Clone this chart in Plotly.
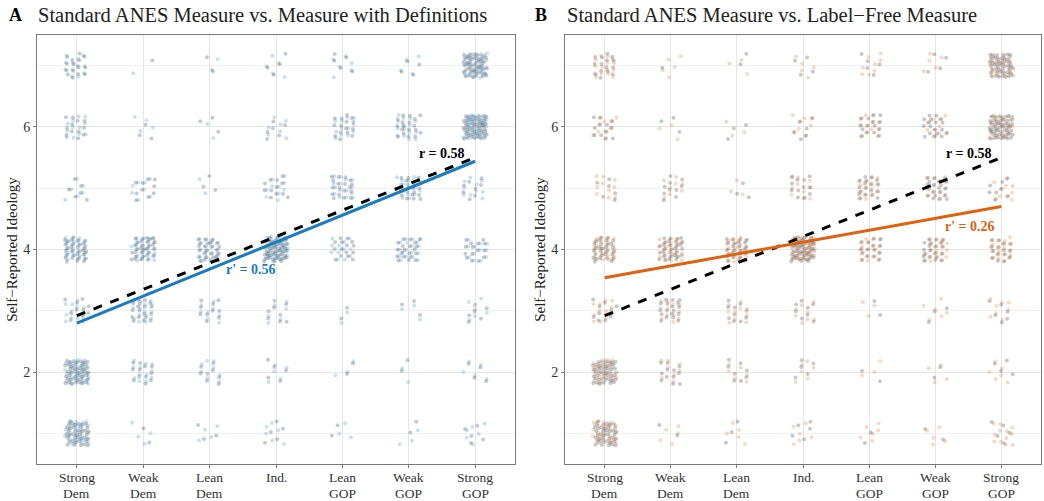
import numpy as np
import plotly.graph_objects as go

# ---------------- data ----------------
party_labels = ["Strong<br>Dem", "Weak<br>Dem", "Lean<br>Dem", "Ind.", "Lean<br>GOP", "Weak<br>GOP", "Strong<br>GOP"]
party_pos = [1, 2, 3, 4, 5, 6, 7]
ideology_levels = [1, 2, 3, 4, 5, 6, 7]
y_ticks = [2, 4, 6]

# counts of respondents per cell, rows = ideology 1..7, cols = party categories
standard_counts = [
    [40, 2, 3, 5, 2, 2, 5],
    [45, 12, 8, 5, 2, 2, 4],
    [10, 18, 10, 8, 2, 3, 6],
    [30, 30, 25, 50, 15, 20, 15],
    [6, 10, 3, 12, 18, 20, 8],
    [12, 3, 3, 6, 15, 18, 50],
    [15, 1, 2, 4, 5, 4, 45],
]
definitions_counts = [
    [30, 4, 4, 6, 3, 3, 6],
    [35, 12, 8, 5, 3, 2, 5],
    [12, 15, 8, 6, 2, 3, 6],
    [25, 25, 20, 40, 12, 18, 12],
    [6, 8, 2, 10, 15, 15, 10],
    [12, 4, 2, 7, 12, 15, 40],
    [12, 1, 2, 5, 6, 4, 35],
]
labelfree_counts = [
    [25, 5, 5, 6, 6, 5, 12],
    [25, 8, 6, 6, 3, 4, 6],
    [12, 12, 10, 8, 3, 6, 8],
    [25, 25, 25, 40, 18, 20, 20],
    [10, 8, 3, 10, 15, 12, 10],
    [10, 3, 3, 8, 12, 10, 25],
    [15, 5, 3, 5, 8, 5, 25],
]

# fitted lines (endpoints at Strong Dem / Strong GOP)
line_x = [1, 7]
standard_fit = [2.92, 5.50]
definitions_fit = [2.80, 5.44]
labelfree_fit = [3.54, 4.70]
r_standard = "r = 0.58"
r_definitions = "r' = 0.56"
r_labelfree = "r' = 0.26"

# ---------------- deterministic jitter ----------------
def jittered(counts, seed):
    xs, ys = [], []
    a1, a2 = 0.7548776662466927, 0.5698402909980532
    k = seed
    for yi, row in zip(ideology_levels, counts):
        for xi, n in zip(party_pos, row):
            for _ in range(n):
                k += 1
                u = (0.5 + a1 * k) % 1.0
                v = (0.5 + a2 * k) % 1.0
                xs.append(xi + (u - 0.5) * 0.36)
                ys.append(yi + (v - 0.5) * 0.40)
    return xs, ys

SERIF = "Liberation Serif, Times New Roman, serif"
GRAY_PT = "rgba(30,45,55,0.25)"
BLUE_PT = "rgba(70,160,215,0.30)"
ORANGE_PT = "rgba(235,130,50,0.30)"
BLUE = "#1b7cc0"
ORANGE = "#e0620e"

fig = go.Figure()

panels = [
    ("x", "y", definitions_counts, BLUE_PT, definitions_fit, BLUE, r_definitions, 3.62, 3.67),
    ("x2", "y2", labelfree_counts, ORANGE_PT, labelfree_fit, ORANGE, r_labelfree, 6.52, 4.37),
]
for i, (xa, ya, alt_counts, alt_col, alt_fit, line_col, alt_lbl, lx, ly) in enumerate(panels):
    gx, gy = jittered(standard_counts, 11 + i * 3)
    cx, cy = jittered(alt_counts, 5000 + i * 7)
    fig.add_trace(go.Scatter(x=cx, y=cy, mode="markers", xaxis=xa, yaxis=ya,
                             marker=dict(size=4, color=alt_col, line=dict(width=0)),
                             showlegend=False, hoverinfo="skip"))
    fig.add_trace(go.Scatter(x=gx, y=gy, mode="markers", xaxis=xa, yaxis=ya,
                             marker=dict(size=4, color=GRAY_PT, line=dict(width=0)),
                             showlegend=False, hoverinfo="skip"))
    fig.add_trace(go.Scatter(x=line_x, y=standard_fit, mode="lines", xaxis=xa, yaxis=ya,
                             line=dict(color="black", width=3, dash="dash"),
                             showlegend=False, hoverinfo="skip"))
    fig.add_trace(go.Scatter(x=line_x, y=alt_fit, mode="lines", xaxis=xa, yaxis=ya,
                             line=dict(color=line_col, width=3),
                             showlegend=False, hoverinfo="skip"))
    fig.add_annotation(x=6.5, y=5.56, xref=xa, yref=ya, text="<b>" + r_standard + "</b>",
                       showarrow=False, font=dict(family=SERIF, size=14, color="black"))
    fig.add_annotation(x=lx, y=ly, xref=xa, yref=ya, text="<b>" + alt_lbl + "</b>",
                       showarrow=False, font=dict(family=SERIF, size=14, color=line_col))
    # category tick labels, one line each so they fit under the panel
    for xv, lab in zip(party_pos, party_labels):
        for li, part in enumerate(lab.split("<br>")):
            fig.add_annotation(x=xv, y=1 - (477 + li * 16) / 501, xref=xa, yref="paper",
                               yanchor="middle", showarrow=False, text=part,
                               font=dict(family=SERIF, size=13.5, color="#333333"))

y_dom = [1 - 464 / 501, 1 - 35 / 501]
axis_common = dict(showline=True, mirror=True, linecolor="#7a7a7a", linewidth=1,
                   ticks="outside", ticklen=3, tickcolor="#7a7a7a",
                   zeroline=False)
for name, dom in (("xaxis", [37 / 1044, 515 / 1044]), ("xaxis2", [565 / 1044, 1041 / 1044])):
    fig.layout[name] = dict(domain=dom, range=[0.4, 7.6], tickvals=party_pos, showticklabels=False,
                            showgrid=True, gridcolor="#e6e6e6", gridwidth=1, **axis_common)
for name, anchor in (("yaxis", "x"), ("yaxis2", "x2")):
    fig.layout[name] = dict(domain=y_dom, anchor=anchor, range=[0.5, 7.5], tickvals=y_ticks,
                            tickfont=dict(family=SERIF, size=14, color="#333333"),
                            showgrid=True, gridcolor="#e6e6e6", gridwidth=1,
                            minor=dict(tickvals=[1, 3, 5, 7], showgrid=True, gridcolor="#f1f1f1", ticks=""),
                            title=dict(text="Self\u2212Reported Ideology", standoff=1,
                                       font=dict(family=SERIF, size=15, color="#222222")),
                            **axis_common)
fig.layout.xaxis2.anchor = "y2"
fig.layout.xaxis.anchor = "y"

# panel titles
for px, tx, letter, title in ((7, 36, "A", "Standard ANES Measure vs. Measure with Definitions"),
                              (533, 565, "B", "Standard ANES Measure vs. Label\u2212Free Measure")):
    fig.add_annotation(x=px / 1044, y=1 - 15 / 501, xref="paper", yref="paper", xanchor="left",
                       yanchor="middle", showarrow=False,
                       text="<b>" + letter + "</b>", font=dict(family=SERIF, size=18, color="black"))
    fig.add_annotation(x=tx / 1044, y=1 - 15 / 501, xref="paper", yref="paper", xanchor="left",
                       yanchor="middle", showarrow=False,
                       text=title, font=dict(family=SERIF, size=20.5, color="#222222"))

fig.update_layout(width=1044, height=501, margin=dict(l=0, r=0, t=0, b=0),
                  plot_bgcolor="white", paper_bgcolor="white", showlegend=False)
fig.write_html("out.html", config={"displayModeBar": False},
               post_script="document.body.style.margin='0';document.body.style.overflow='hidden';")
